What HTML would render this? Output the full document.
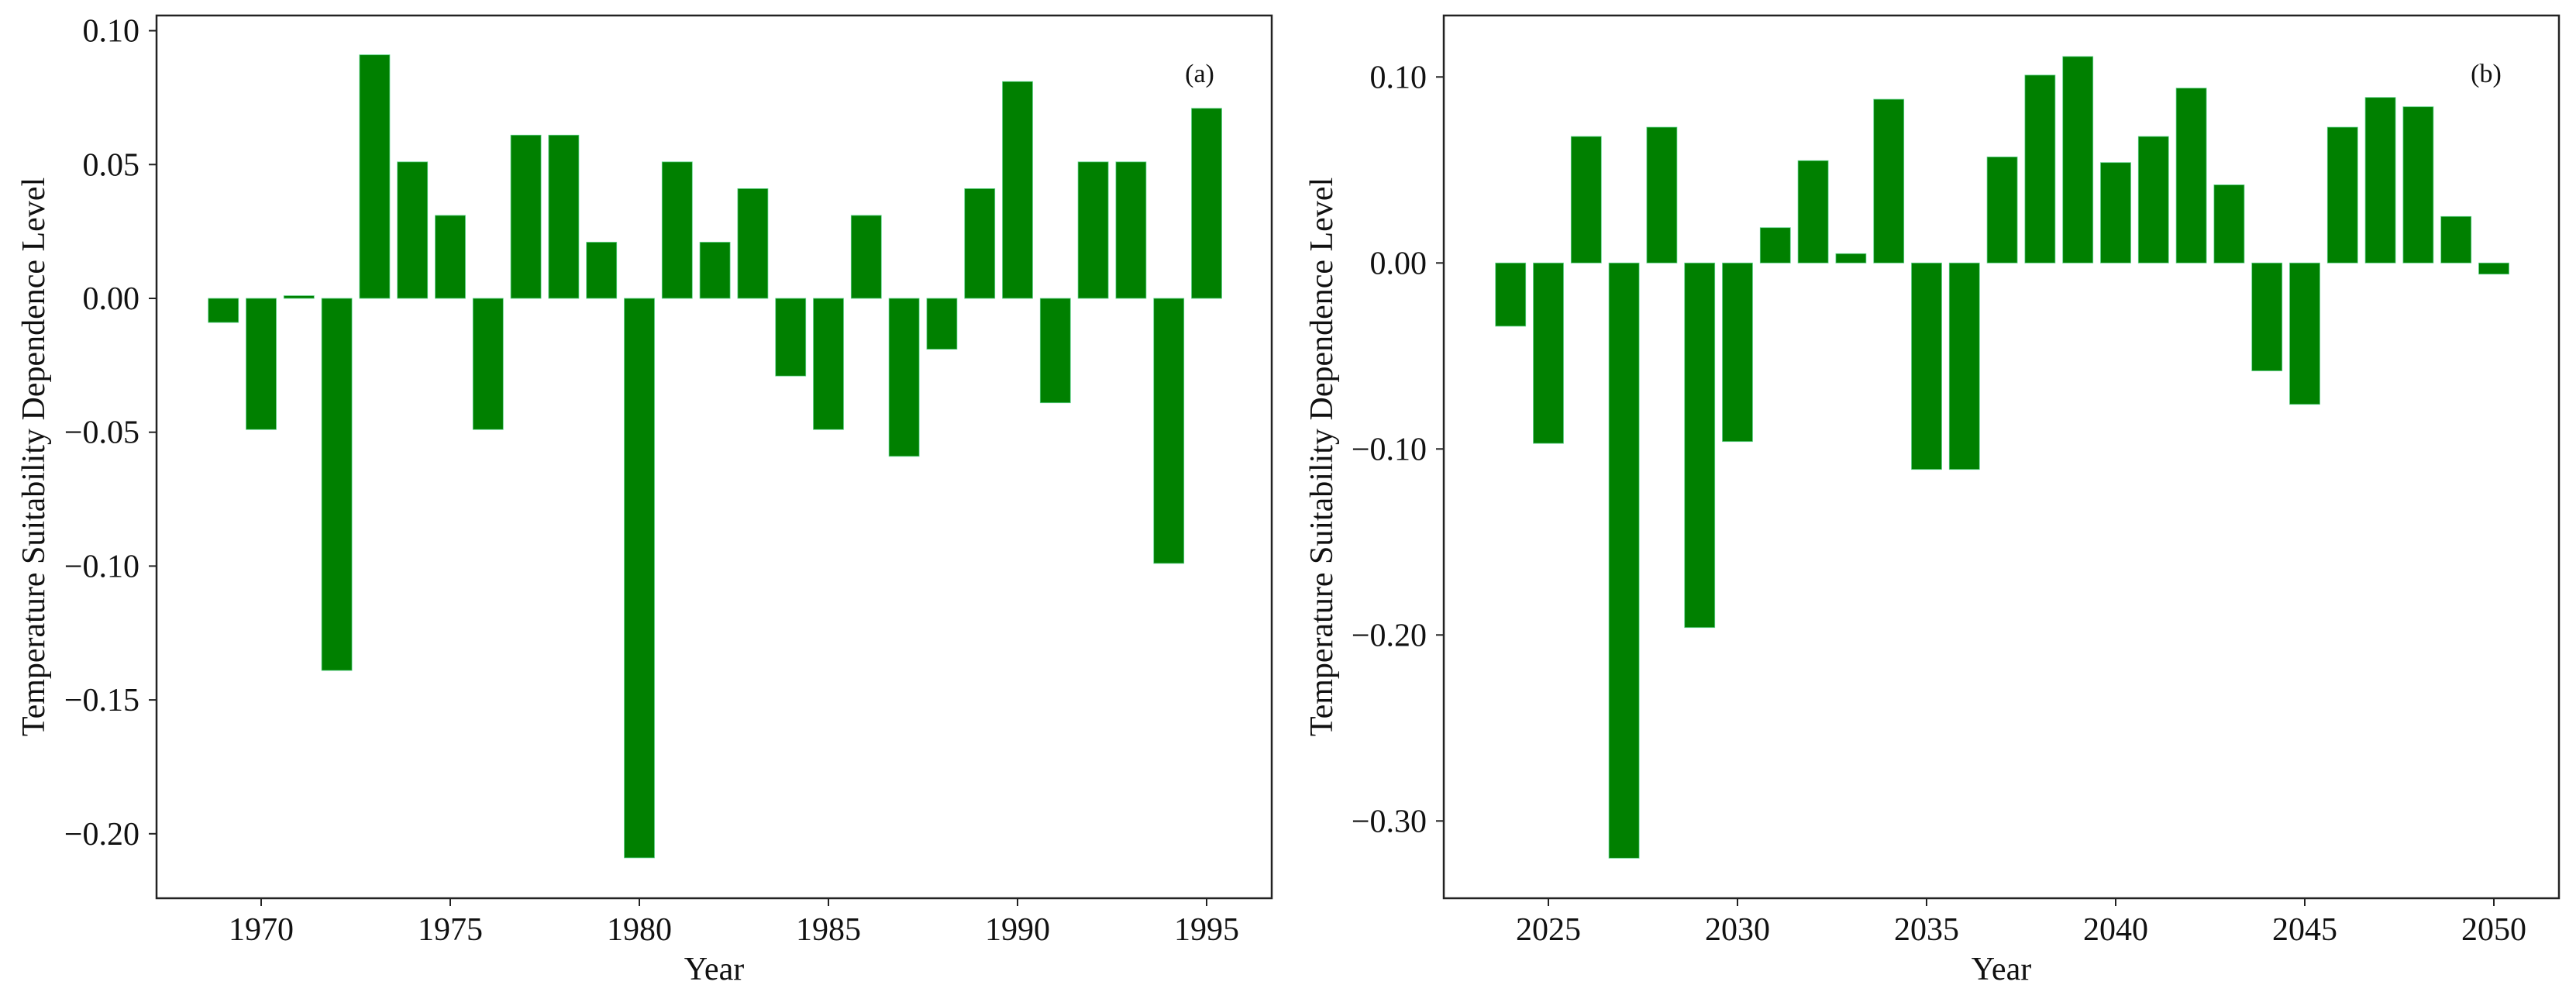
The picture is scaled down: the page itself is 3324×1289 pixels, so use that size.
<!DOCTYPE html>
<html><head><meta charset="utf-8"><style>
html,body{margin:0;padding:0;background:#fff;}
svg{display:block;font-family:"Liberation Serif",serif;}
</style></head><body>
<svg id="chart" width="3324" height="1289" viewBox="0 0 3324 1289" xmlns="http://www.w3.org/2000/svg"></svg>
<script>
const yearsA = [1969,1970,1971,1972,1973,1974,1975,1976,1977,1978,1979,1980,1981,1982,1983,1984,1985,1986,1987,1988,1989,1990,1991,1992,1993,1994,1995];
const valuesA = [-0.009,-0.049,0.001,-0.139,0.091,0.051,0.031,-0.049,0.061,0.061,0.021,-0.209,0.051,0.021,0.041,-0.029,-0.049,0.031,-0.059,-0.019,0.041,0.081,-0.039,0.051,0.051,-0.099,0.071];
const xTicksA = [1970,1975,1980,1985,1990,1995];
const yTicksA = [0.10,0.05,0.00,-0.05,-0.10,-0.15,-0.20];
const yearsB = [2024,2025,2026,2027,2028,2029,2030,2031,2032,2033,2034,2035,2036,2037,2038,2039,2040,2041,2042,2043,2044,2045,2046,2047,2048,2049,2050];
const valuesB = [-0.034,-0.097,0.068,-0.320,0.073,-0.196,-0.096,0.019,0.055,0.005,0.088,-0.111,-0.111,0.057,0.101,0.111,0.054,0.068,0.094,0.042,-0.058,-0.076,0.073,0.089,0.084,0.025,-0.006];
const xTicksB = [2025,2030,2035,2040,2045,2050];
const yTicksB = [0.10,0.00,-0.10,-0.20,-0.30];

const NS = "http://www.w3.org/2000/svg";
const svg = document.getElementById('chart');
function mk(tag, attrs, parent){
  const e = document.createElementNS(NS, tag);
  for (const k in attrs) e.setAttribute(k, attrs[k]);
  (parent||svg).appendChild(e);
  return e;
}
function fmt(v){ const s = Math.abs(v).toFixed(2); return (v < -1e-9 ? "\u2212" : "") + s; }

function panel(cfg){
  const g = mk('g', {});
  
  
  const L=cfg.left, R=cfg.right, T=20, B=1159;
  const xs = yr => cfg.x0 + (yr - cfg.yr0) * 48.8;
  const ys = v => cfg.zeroY - v * cfg.pxPerUnit;
  const bw = 39;
  cfg.years.forEach((yr, i) => {
    const v = cfg.values[i];
    const y0 = ys(0), y1 = ys(v);
    const r = mk('rect', {x: xs(yr) - bw/2, y: Math.min(y0,y1), width: bw, height: Math.max(Math.abs(y1-y0),1.5), fill:'#008000', stroke:'#5fd38a', 'stroke-width':0.8}, g);
    
    
  });
  const frame = mk('rect', {x:L, y:T, width:R-L, height:B-T, fill:'none', stroke:'#222', 'stroke-width':2.5}, g);
  
  
  cfg.yTicks.forEach(v => {
    const y = ys(v);
    mk('line', {x1:L-10, x2:L, y1:y, y2:y, stroke:'#222', 'stroke-width':2}, g);
    const t = mk('text', {x:L-22, y:y+14, 'text-anchor':'end', 'font-size':42, fill:'#111'}, g);
    t.textContent = fmt(v);
    
    
  });
  cfg.xTicks.forEach(yr => {
    const x = xs(yr);
    mk('line', {x1:x, x2:x, y1:B, y2:B+10, stroke:'#222', 'stroke-width':2}, g);
    const t = mk('text', {x:x, y:1213, 'text-anchor':'middle', 'font-size':42, fill:'#111'}, g);
    t.textContent = yr;
    
    
  });
  const xt = mk('text', {x:(L+R)/2, y:1264, 'text-anchor':'middle', 'font-size':42, fill:'#111'}, g);
  xt.textContent = 'Year';
  
  
  const yt = mk('text', {x:0, y:0, 'text-anchor':'middle', 'font-size':42, fill:'#111', transform:'translate(' + cfg.ylabX + ',' + ((T+B)/2) + ') rotate(-90)'}, g);
  yt.textContent = 'Temperature Suitability Dependence Level';
  
  
  const pl = mk('text', {x:cfg.tagX, y:106, 'text-anchor':'middle', 'font-size':34, fill:'#111'}, g);
  pl.textContent = cfg.tag;
  
  
}

panel({name:'panel-a', left:202, right:1641, x0:337, yr0:1970, zeroY:385, pxPerUnit:3454,
  years:yearsA, values:valuesA, xTicks:xTicksA, yTicks:yTicksA, ylabX:57, tagX:1548, tag:'(a)'});
panel({name:'panel-b', left:1863, right:3302, x0:1998, yr0:2025, zeroY:339.3, pxPerUnit:2400,
  years:yearsB, values:valuesB, xTicks:xTicksB, yTicks:yTicksB, ylabX:1719, tagX:3208, tag:'(b)'});
</script>
</body></html>
